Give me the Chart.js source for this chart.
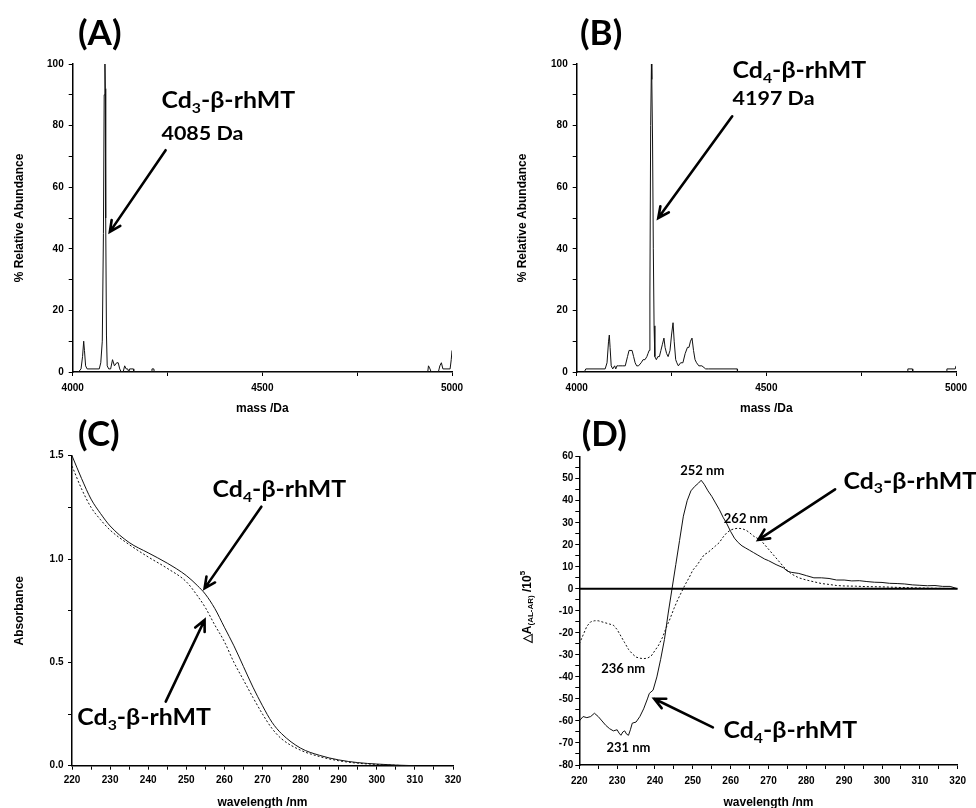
<!DOCTYPE html>
<html>
<head>
<meta charset="utf-8">
<script src="https://cdn.jsdelivr.net/npm/chart.js@4/dist/chart.umd.min.js"></script>
<style>
  html, body { margin: 0; padding: 0; background: #fff; width: 976px; height: 808px; overflow: hidden; }
  .panel { position: absolute; }
</style>
</head>
<body>
<canvas id="chartA" class="panel" width="490" height="420" style="left:0;top:0"></canvas>
<canvas id="chartB" class="panel" width="486" height="420" style="left:490px;top:0"></canvas>
<canvas id="chartC" class="panel" width="490" height="420" style="left:0;top:410px"></canvas>
<canvas id="chartD" class="panel" width="486" height="420" style="left:490px;top:410px"></canvas>
<script>
// (A) Cd3-beta-rhMT deconvoluted mass spectrum
const massA = [4015, 4022, 4026, 4029, 4031, 4034, 4038, 4070, 4074, 4078, 4081, 4083, 4085, 4086, 4087, 4089, 4091,
  4095, 4100, 4105, 4110, 4116, 4120, 4124, 4128, 4133, 4137, 4141, 4145, 4148, 4150, 4160, 4161,
  4208, 4209, 4214, 4215, 4936, 4938, 4942, 4945, 4964, 4968, 4972, 4976, 4995, 4998, 5000];
const abundA = [0, 1, 5, 10, 7, 2, 1, 1, 3, 10, 45, 90, 100, 92, 50, 12, 2,
  1, 1, 4, 2, 3, 3, 1, 0, 0, 2, 1, 1, 0, 1, 1, 0,
  0, 1, 1, 0, 0, 2, 1, 0, 0, 2, 3, 1, 1, 4, 7];

// (B) Cd4-beta-rhMT
const massB = [4020, 4024, 4075, 4080, 4084, 4086, 4088, 4091, 4095, 4100,
  4103, 4106, 4110, 4120, 4128, 4134, 4138, 4146, 4150, 4154,
  4158, 4163, 4170, 4175, 4180, 4185, 4188, 4191, 4193, 4195,
  4197, 4198, 4200, 4202, 4204, 4206, 4210, 4214, 4218, 4222,
  4226, 4230, 4233, 4237, 4241, 4246, 4250, 4254, 4257, 4261,
  4264, 4268, 4274, 4280, 4286, 4292, 4296, 4300, 4304, 4308,
  4312, 4316, 4322, 4330, 4340, 4348, 4423, 4424, 4872, 4873,
  4885, 4886, 4975, 4976, 4998, 5000];
const abundB = [0, 1, 1, 3, 10, 12, 8, 2, 1, 2,
  1, 2, 2, 2, 2, 5, 7, 7, 5, 3,
  2, 2, 3, 4, 4, 5, 6, 7, 25, 80,
  100, 95, 75, 40, 15, 5, 4, 5, 5, 7,
  9, 11, 8, 6, 5, 7, 12, 16, 10, 4,
  3, 2, 3, 3, 6, 8, 8, 10, 11, 7,
  4, 3, 2, 2, 1, 1, 1, 0, 0, 1,
  1, 0, 0, 1, 1, 2];

// (C) UV absorption
const wlC4 = [220, 222.5, 225, 227.5, 230, 235, 240, 245, 250, 253, 255, 257.5, 260, 262.5, 265, 267.5, 270, 272.5, 275, 280, 285, 290, 295, 300, 305, 310];
const absCd4 = [1.50, 1.39, 1.29, 1.22, 1.16, 1.08, 1.03, 0.98, 0.92, 0.87, 0.83, 0.76, 0.67, 0.58, 0.48, 0.38, 0.29, 0.21, 0.155, 0.085, 0.05, 0.028, 0.015, 0.008, 0.003, 0];
const wlC3 = [220, 222.5, 225, 227.5, 230, 235, 240, 245, 250, 253, 255, 257.5, 260, 262.5, 265, 267.5, 270, 272.5, 275, 280, 285, 290, 295, 300, 305, 308];
const absCd3 = [1.45, 1.34, 1.25, 1.19, 1.14, 1.07, 1.01, 0.955, 0.89, 0.82, 0.765, 0.68, 0.60, 0.50, 0.415, 0.33, 0.25, 0.18, 0.13, 0.075, 0.044, 0.024, 0.012, 0.006, 0.002, 0];

// (D) CD spectra
const wlD4 = [220, 221, 222, 223, 224, 225, 226, 227, 228, 229, 230, 230.5, 231, 231.5, 232, 232.5, 233, 233.5, 234, 235,
  236, 237, 238, 238.5, 239.5, 240.5, 241.5, 242.5, 243.5, 244.5, 245.5, 246.5, 247.5, 248.5, 249.5, 250.5, 251.5, 252.2,
  253, 254, 255, 256, 257, 258, 259, 260, 261, 262, 263, 264, 265, 266, 267, 268, 269, 270, 272, 274, 275, 276, 278,
  280, 282, 284, 286, 288, 290, 292, 294, 296, 298, 300, 302, 304, 306, 308, 310, 312, 314, 316, 318, 320];
const cdCd4 = [-60, -58, -58.5, -58, -56.5, -58, -60, -62, -63.5, -64.5, -64, -65.5, -66.5, -65, -64.5, -66, -66.5, -64, -61, -60.5,
  -58, -54.5, -50, -47.5, -46, -40, -32, -23, -11, 0, 11, 22, 33, 40, 44.5, 46.5, 48, 49.3,
  47.5, 44.5, 42, 39, 36, 32.5, 29.5, 26, 23, 21, 19.5, 18.5, 17.5, 16.5, 15.5, 14.5, 13.5, 12.8, 11, 9.5, 8, 7.5, 7,
  6, 5, 5, 4.7, 4, 4, 3.6, 3.7, 3.3, 3, 2.9, 2.5, 2.4, 2.2, 1.8, 1.6, 1.4, 1.5, 1.1, 1.1, 0];
const wlD3 = [220, 221, 222, 223, 224, 225, 226, 227, 228, 229, 230, 231, 232, 233, 234, 235, 236, 237, 238, 239,
  240, 241, 242, 243, 244, 245, 246, 247, 248, 249, 250, 251, 252, 253, 254, 255, 256, 257, 258, 259,
  260, 261, 262, 263, 264, 265, 266, 268, 270, 272, 274, 276, 278, 280, 282, 284, 286, 288, 290, 293,
  296, 300, 305, 310, 315, 320];
const cdCd3 = [-25, -21, -17, -15, -14.5, -14.5, -15, -15.5, -16, -16.5, -18.5, -21.5, -24.5, -27.5, -29.5, -31, -31.5, -31.7, -31.5, -30.5,
  -28, -25.5, -22, -17.5, -13.5, -9, -5, -1.5, 2, 5, 8.5, 10.5, 13, 15.5, 16.5, 18, 19.5, 21, 23.5, 25.5,
  26.7, 27.3, 27.5, 27.3, 26.7, 25.5, 24, 22, 18, 14, 10, 6.8, 5, 4, 3.2, 2.4, 2, 1.5, 1.3, 1.2,
  1, 0.9, 0.6, 0.4, 0.2, 0.1];
const zeroX = [220, 320];
const zeroY = [0, 0];

const tickFont = { family: "'Liberation Sans', Arial, sans-serif", size: 10, weight: 'bold' };
const titleFont = { family: "'Liberation Sans', Arial, sans-serif", size: 12, weight: 'bold' };
const noteFamily = "Lato, 'Open Sans', sans-serif";
const stretch = 1.13; // Lato is narrower than the Calibri of the original

function axis(o) {
  return {
    type: 'linear', position: o.pos, min: o.min, max: o.max,
    ticks: {
      stepSize: o.step, autoSkip: false, maxRotation: 0, color: '#000', font: tickFont, padding: o.tickPad,
      callback: (v) => {
        const k = v / o.major;
        return Math.abs(k - Math.round(k)) < 1e-6 ? o.fmt(v) : '';
      }
    },
    grid: { drawOnChartArea: false, drawTicks: true, tickLength: 4, tickColor: '#000', color: '#000' },
    border: { color: '#000', width: 1.5 },
    title: { display: !!o.title, text: o.title, color: '#000', font: titleFont, padding: o.titlePad },
    afterFit: (s) => { if (o.pos === 'bottom') s.height = o.size; else s.width = o.size; }
  };
}

function series(xs, ys, opts) {
  return Object.assign({
    data: xs.map((x, i) => ({ x: x, y: ys[i] })),
    borderColor: '#111', borderWidth: 1, pointRadius: 0, fill: false, tension: 0
  }, opts || {});
}

function cdLabel(n) {
  return [{ t: 'Cd' }, { t: n, sub: true }, { t: '-β-rhMT' }];
}

function drawRich(ctx, parts, x, y, size, align, sx) {
  const big = 'bold ' + size + 'px ' + noteFamily;
  const small = 'bold ' + Math.round(size * 0.65) + 'px ' + noteFamily;
  sx = sx || 1;
  let w = 0;
  parts.forEach((p) => { ctx.font = p.sub ? small : big; w += ctx.measureText(p.t).width; });
  ctx.save();
  ctx.translate(align === 'center' ? x - w * sx / 2 : x, y);
  ctx.scale(sx, 1);
  ctx.textAlign = 'left';
  ctx.textBaseline = 'alphabetic';
  ctx.fillStyle = '#000';
  let cx = 0;
  parts.forEach((p) => {
    ctx.font = p.sub ? small : big;
    ctx.fillText(p.t, cx, p.sub ? size * 0.22 : 0);
    cx += ctx.measureText(p.t).width;
  });
  ctx.restore();
}

function drawArrow(ctx, x1, y1, x2, y2) {
  const a = Math.atan2(y2 - y1, x2 - x1);
  const h = 12;
  ctx.save();
  ctx.strokeStyle = '#000';
  ctx.lineWidth = 2.6;
  ctx.lineCap = 'round';
  ctx.beginPath();
  ctx.moveTo(x1, y1);
  ctx.lineTo(x2, y2);
  ctx.moveTo(x2 - h * Math.cos(a - 0.45), y2 - h * Math.sin(a - 0.45));
  ctx.lineTo(x2, y2);
  ctx.lineTo(x2 - h * Math.cos(a + 0.45), y2 - h * Math.sin(a + 0.45));
  ctx.stroke();
  ctx.restore();
}

// panel letters, arrows and labels placed in data coordinates
function notes(cfg) {
  return {
    id: 'notes',
    afterDraw(chart) {
      const ctx = chart.ctx, xs = chart.scales.x, ys = chart.scales.y;
      ctx.save();
      ctx.font = 'bold 35px ' + noteFamily;
      ctx.fillStyle = '#000';
      ctx.textBaseline = 'middle';
      ctx.textAlign = 'left';
      ctx.fillText(cfg.letter[0], cfg.letter[1], cfg.letter[2]);
      (cfg.arrows || []).forEach((a) => drawArrow(ctx,
        xs.getPixelForValue(a[0]), ys.getPixelForValue(a[1]),
        xs.getPixelForValue(a[2]), ys.getPixelForValue(a[3])));
      (cfg.texts || []).forEach((t) => drawRich(ctx, t.parts,
        xs.getPixelForValue(t.x), ys.getPixelForValue(t.y), t.size, t.align, t.sx || stretch));
      if (cfg.after) cfg.after(ctx, chart);
      ctx.restore();
    }
  };
}

function makeChart(id, datasets, scales, pad, plugin) {
  return new Chart(document.getElementById(id), {
    type: 'line',
    data: { datasets: datasets },
    options: {
      responsive: false, animation: false, events: [],
      layout: { padding: pad },
      plugins: { legend: { display: false }, tooltip: { enabled: false } },
      scales: scales
    },
    plugins: [plugin]
  });
}

const fmtInt = (v) => String(v);
const fmt1 = (v) => v.toFixed(1);

// (A)
makeChart('chartA', [series(massA, abundA)], {
  x: axis({ pos: 'bottom', min: 4000, max: 5000, step: 250, major: 500, fmt: fmtInt, tickPad: 6, size: 48,
    title: 'mass /Da', titlePad: { top: 0, bottom: 4 } }),
  y: axis({ pos: 'left', min: 0, max: 100, step: 10, major: 20, fmt: fmtInt, tickPad: 5, size: 72.7,
    title: '% Relative Abundance', titlePad: { top: 12.8, bottom: 0 } })
}, { top: 64, right: 38, left: 0, bottom: 0 }, notes({
  letter: ['(A)', 78, 34],
  arrows: [[4245, 72, 4098, 45.5]],
  texts: [
    { parts: cdLabel('3'), x: 4234, y: 85.6, size: 22 },
    { parts: [{ t: '4085 Da' }], x: 4234, y: 75.3, size: 19 }
  ]
}));

// (B)
makeChart('chartB', [series(massB, abundB)], {
  x: axis({ pos: 'bottom', min: 4000, max: 5000, step: 250, major: 500, fmt: fmtInt, tickPad: 6, size: 48,
    title: 'mass /Da', titlePad: { top: 0, bottom: 4 } }),
  y: axis({ pos: 'left', min: 0, max: 100, step: 10, major: 20, fmt: fmtInt, tickPad: 5, size: 86.7,
    title: '% Relative Abundance', titlePad: { top: 25.8, bottom: 0 } })
}, { top: 64, right: 20, left: 0, bottom: 0 }, notes({
  letter: ['(B)', 90, 34],
  arrows: [[4410, 83, 4215, 50]],
  texts: [
    { parts: cdLabel('4'), x: 4411, y: 95.4, size: 22 },
    { parts: [{ t: '4197 Da' }], x: 4411, y: 86.7, size: 19 }
  ]
}));

// (C)
makeChart('chartC', [
  series(wlC4, absCd4, { cubicInterpolationMode: 'monotone' }),
  series(wlC3, absCd3, { cubicInterpolationMode: 'monotone', borderDash: [2, 2] })
], {
  x: axis({ pos: 'bottom', min: 220, max: 320, step: 5, major: 10, fmt: fmtInt, tickPad: 5, size: 64.3,
    title: 'wavelength /nm', titlePad: { top: 0, bottom: 19.8 } }),
  y: axis({ pos: 'left', min: 0, max: 1.5, step: 0.25, major: 0.5, fmt: fmt1, tickPad: 4.5, size: 72,
    title: 'Absorbance', titlePad: { top: 12.8, bottom: 0 } })
}, { top: 45.7, right: 37, left: 0, bottom: 0 }, notes({
  letter: ['(C)', 78, 25],
  arrows: [[269.7, 1.253, 254.8, 0.858], [244.6, 0.31, 254.8, 0.705]],
  texts: [
    { parts: cdLabel('4'), x: 256.9, y: 1.30, size: 22 },
    { parts: cdLabel('3'), x: 221.4, y: 0.197, size: 22 }
  ]
}));

// (D)
makeChart('chartD', [
  series(zeroX, zeroY, { borderWidth: 2, borderColor: '#000' }),
  series(wlD4, cdCd4),
  series(wlD3, cdCd3, { borderDash: [2, 2] })
], {
  x: axis({ pos: 'bottom', min: 220, max: 320, step: 5, major: 10, fmt: fmtInt, tickPad: 6, size: 65,
    title: 'wavelength /nm', titlePad: { top: 0, bottom: 19.8 } }),
  y: axis({ pos: 'left', min: -80, max: 60, step: 5, major: 10, fmt: fmtInt, tickPad: 2, size: 89.3,
    title: '', titlePad: 0 })
}, { top: 46.7, right: 18.3, left: 0, bottom: 0 }, notes({
  letter: ['(D)', 91.7, 25],
  arrows: [[287.6, 45.2, 267.3, 22.2], [255.3, -62.9, 239.8, -49.9]],
  texts: [
    { parts: cdLabel('3'), x: 289.8, y: 45.5, size: 22 },
    { parts: cdLabel('4'), x: 258.1, y: -67.8, size: 22 },
    { parts: [{ t: '252 nm' }], x: 252.5, y: 51.5, size: 13, align: 'center', sx: 1 },
    { parts: [{ t: '262 nm' }], x: 264, y: 29.7, size: 13, align: 'center', sx: 1 },
    { parts: [{ t: '236 nm' }], x: 231.6, y: -38.4, size: 13, align: 'center', sx: 1 },
    { parts: [{ t: '231 nm' }], x: 233, y: -74.2, size: 13, align: 'center', sx: 1 }
  ],
  after: (ctx) => {
    // y title with subscript and superscript
    const parts = [
      { t: '△A', f: 'bold 12px ' + titleFont.family, dy: 0 },
      { t: '(AL-AR)', f: 'bold 8px ' + titleFont.family, dy: 3 },
      { t: ' /10', f: 'bold 12px ' + titleFont.family, dy: 0 },
      { t: '5', f: 'bold 8px ' + titleFont.family, dy: -5 }
    ];
    let w = 0;
    parts.forEach((p) => { ctx.font = p.f; w += ctx.measureText(p.t).width; });
    ctx.save();
    ctx.translate(33.3, 197);
    ctx.rotate(-Math.PI / 2);
    ctx.textBaseline = 'middle';
    ctx.textAlign = 'left';
    ctx.fillStyle = '#000';
    let cx = -w / 2;
    parts.forEach((p) => {
      ctx.font = p.f;
      ctx.fillText(p.t, cx, p.dy + 4);
      cx += ctx.measureText(p.t).width;
    });
    ctx.restore();
  }
}));
</script>
</body>
</html>
